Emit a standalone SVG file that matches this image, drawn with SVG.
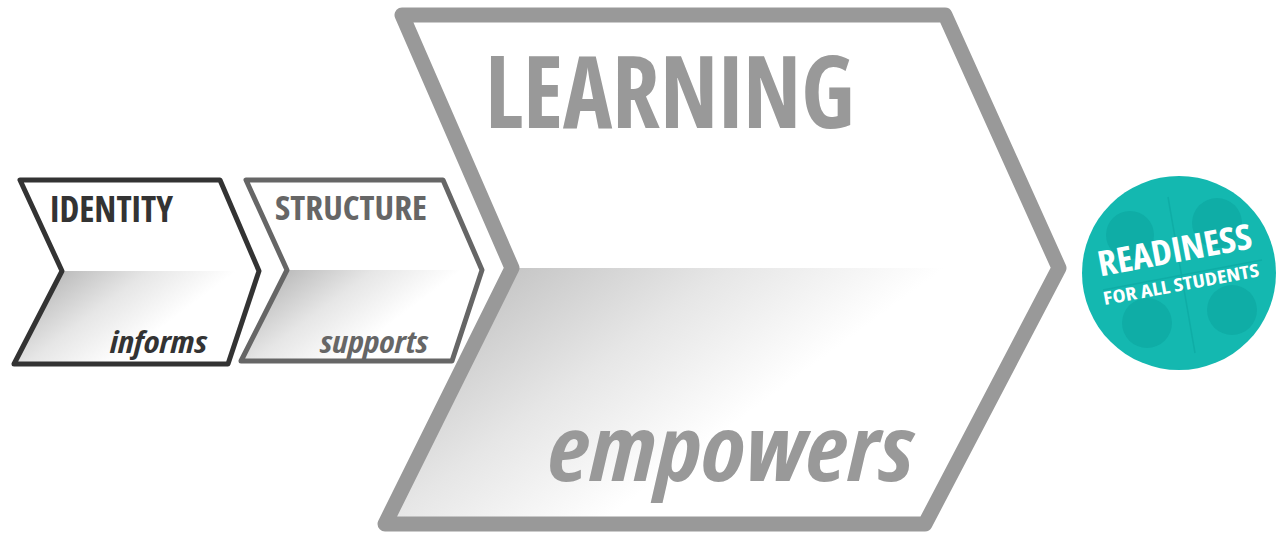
<svg xmlns="http://www.w3.org/2000/svg" width="1276" height="533" viewBox="0 0 1276 533">
  <style>
    .lbl { font-family: "Open Sans", "Liberation Sans", Arial, sans-serif; font-weight: 700; font-stretch: 75%; }
    .ital { font-style: italic; }
    .edge { fill: none; stroke-linejoin: round; }
  </style>
  <defs>
    <linearGradient id="gId" gradientUnits="userSpaceOnUse" x1="62" y1="271" x2="125" y2="355">
      <stop offset="0" stop-color="#bcbcbc"/>
      <stop offset="0.5" stop-color="#e6e6e6"/>
      <stop offset="1" stop-color="#ffffff"/>
    </linearGradient>
    <linearGradient id="gSt" gradientUnits="userSpaceOnUse" x1="287" y1="270" x2="350" y2="354">
      <stop offset="0" stop-color="#bcbcbc"/>
      <stop offset="0.5" stop-color="#e6e6e6"/>
      <stop offset="1" stop-color="#ffffff"/>
    </linearGradient>
    <linearGradient id="gLe" gradientUnits="userSpaceOnUse" x1="512" y1="268" x2="665" y2="475">
      <stop offset="0" stop-color="#c6c6c6"/>
      <stop offset="0.5" stop-color="#e6e6e6"/>
      <stop offset="1" stop-color="#ffffff"/>
    </linearGradient>
  </defs>
  <rect width="1276" height="533" fill="#ffffff"/>

  <g id="identity">
    <polygon points="20,180 220,180 259,271 62,271" fill="#ffffff"/>
    <polygon points="62,271 259,271 228,364 14,364" fill="url(#gId)"/>
    <polygon class="edge" points="20,180 220,180 259,271 228,364 14,364 62,271" stroke="#333333" stroke-width="5"/>
    <text class="lbl" x="50" y="221.5" font-size="36" fill="#333333" textLength="123" lengthAdjust="spacingAndGlyphs">IDENTITY</text>
    <text class="lbl ital" x="110" y="353" font-size="31" fill="#333333" textLength="97" lengthAdjust="spacingAndGlyphs">informs</text>
  </g>

  <g id="structure">
    <polygon points="246,180 443,180 482,270 287,270" fill="#ffffff"/>
    <polygon points="287,270 482,270 452,361 241,361" fill="url(#gSt)"/>
    <polygon class="edge" points="246,180 443,180 482,270 452,361 241,361 287,270" stroke="#666666" stroke-width="5"/>
    <text class="lbl" x="275" y="220" font-size="34" fill="#666666" textLength="152" lengthAdjust="spacingAndGlyphs">STRUCTURE</text>
    <text class="lbl ital" x="320" y="353" font-size="31" fill="#666666" textLength="108" lengthAdjust="spacingAndGlyphs">supports</text>
  </g>

  <g id="learning">
    <polygon points="402,15 945,15 1059,268 512,268" fill="#ffffff"/>
    <polygon points="512,268 1059,268 925,524 385,524" fill="url(#gLe)"/>
    <polygon class="edge" points="402,15 945,15 1059,268 925,524 385,524 512,268" stroke="#999999" stroke-width="15"/>
    <text class="lbl" x="485" y="128" font-size="101" fill="#999999" textLength="370" lengthAdjust="spacingAndGlyphs">LEARNING</text>
    <text class="lbl ital" x="548" y="481" font-size="92" fill="#999999" textLength="366" lengthAdjust="spacingAndGlyphs">empowers</text>
  </g>

  <g id="readiness">
    <circle cx="1179" cy="273" r="97" fill="#14b8b0"/>
    <g fill="#0fada6">
      <circle cx="1130" cy="235" r="24"/>
      <circle cx="1217" cy="223" r="25"/>
      <circle cx="1147" cy="323" r="25"/>
      <circle cx="1232" cy="310" r="25"/>
    </g>
    <g stroke="#0fada6" stroke-width="1.5">
      <line x1="1168" y1="197" x2="1195" y2="353"/>
      <line x1="1103" y1="290" x2="1262" y2="260"/>
    </g>
    <g transform="rotate(-10.5 1179 273)">
      <text class="lbl" x="1179" y="262" font-size="35" fill="#ffffff" text-anchor="middle" textLength="156" lengthAdjust="spacingAndGlyphs">READINESS</text>
      <text class="lbl" x="1179" y="291" font-size="18" fill="#ffffff" text-anchor="middle" textLength="158" lengthAdjust="spacingAndGlyphs">FOR ALL STUDENTS</text>
    </g>
  </g>
</svg>
